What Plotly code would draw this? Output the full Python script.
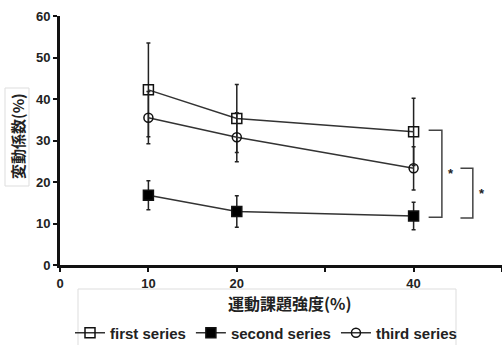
import plotly.graph_objects as go

# ---- data ----
intensity = [10, 20, 40]
series_names = ["first series", "second series", "third series"]
first_vals = [42.2, 35.3, 32.1]
first_err = [11.3, 8.2, 8.1]
second_vals = [16.8, 12.9, 11.8]
second_err = [3.5, 3.8, 3.3]
third_vals = [35.5, 30.8, 23.3]
third_err = [6.3, 5.9, 5.2]

x_tickvals = [0, 10, 20, 30, 40, 50]
x_ticktext = ["0", "10", "20", "", "40", ""]
y_tickvals = [0, 10, 20, 30, 40, 50, 60]

x_title = "運動課題強度(%)"
y_title = "変動係数(%)"

W, H = 502, 345
L, R, T, B = 60, 0, 16, 80
PW, PH = W - L - R, H - T - B

fig = go.Figure()

styles = [
    dict(symbol="square-open", size=10, color="#111"),
    dict(symbol="square", size=10, color="#000"),
    dict(symbol="circle-open", size=9, color="#111"),
]
for name, vals, err, st in zip(series_names,
                               [first_vals, second_vals, third_vals],
                               [first_err, second_err, third_err], styles):
    fig.add_trace(go.Scatter(
        x=intensity, y=vals, name=name, mode="lines+markers",
        line=dict(color="#333", width=1.5),
        marker=dict(symbol=st["symbol"], size=st["size"], color=st["color"],
                    line=dict(color="#111", width=1.5)),
        error_y=dict(type="data", array=err, visible=True, color="#222",
                     thickness=1.5, width=2),
    ))

# light boxes around titles
fig.add_shape(type="rect", xref="paper", yref="paper",
              x0=(78 - L) / PW, x1=(456 - L) / PW,
              y0=-(350 - (H - B)) / PH, y1=-(289 - (H - B)) / PH,
              line=dict(color="#ddd", width=1))
fig.add_shape(type="rect", xref="paper", yref="paper",
              x0=(5 - L) / PW, x1=(29 - L) / PW,
              y0=((H - B) - 186) / PH, y1=((H - B) - 88) / PH,
              line=dict(color="#ddd", width=1))

fig.update_layout(
    width=W, height=H,
    margin=dict(l=L, r=R, t=T, b=B, autoexpand=False),
    paper_bgcolor="white", plot_bgcolor="white",
    font=dict(family="Liberation Sans, Arial, sans-serif", color="#222"),
    showlegend=True,
    legend=dict(orientation="h", x=(266 - L) / PW, xanchor="center",
                y=-(333 - (H - B)) / PH, yanchor="middle",
                font=dict(size=15, family="Liberation Sans, Arial", color="#222", weight="bold"),
                itemwidth=30, bgcolor="rgba(0,0,0,0)", tracegroupgap=0),
    xaxis=dict(range=[0, 50], tickvals=x_tickvals, ticktext=x_ticktext, automargin=False,
               showgrid=False, zeroline=False, showline=True, linecolor="#111",
               linewidth=3, ticks="outside", ticklen=4, tickwidth=2, tickcolor="#111",
               tickfont=dict(size=13, weight="bold", color="#222")),
    yaxis=dict(range=[0, 60], tickvals=y_tickvals, automargin=False,
               showgrid=False, zeroline=False, showline=True, linecolor="#111",
               linewidth=3, ticks="outside", ticklen=4, tickwidth=2, tickcolor="#111",
               tickfont=dict(size=13, weight="bold", color="#222")),
)

fig.add_annotation(xref="paper", yref="paper", x=(290 - L) / PW, y=-(303 - (H - B)) / PH,
                   text=x_title, showarrow=False, xanchor="center", yanchor="middle",
                   font=dict(size=16, family="Noto Sans CJK JP", weight="bold", color="#222"))
fig.add_annotation(xref="paper", yref="paper", x=(17 - L) / PW, y=((H - B) - 136) / PH,
                   text=y_title, showarrow=False, textangle=-90, xanchor="center", yanchor="middle",
                   font=dict(size=15, family="Noto Sans CJK JP", weight="bold", color="#222"))

# significance brackets at the last intensity
last = len(intensity) - 1
brackets = [
    (first_vals[last] + 0.4, second_vals[last] - 0.3, 41.7, 43.2),
    (third_vals[last], second_vals[last] - 0.5, 45.3, 46.7),
]
for top, bot, x0, x1 in brackets:
    fig.add_trace(go.Scatter(
        x=[x0, x1, x1, x0], y=[top, top, bot, bot], mode="lines",
        line=dict(color="#444", width=1.5), showlegend=False, hoverinfo="skip"))
    fig.add_annotation(x=x1 + 1.0, y=(top + bot) / 2, text="<b>*</b>",
                       showarrow=False, font=dict(size=13, color="#222"))

fig.write_html("out.html", config={"displayModeBar": False},
               post_script="document.body.style.margin='0';")
